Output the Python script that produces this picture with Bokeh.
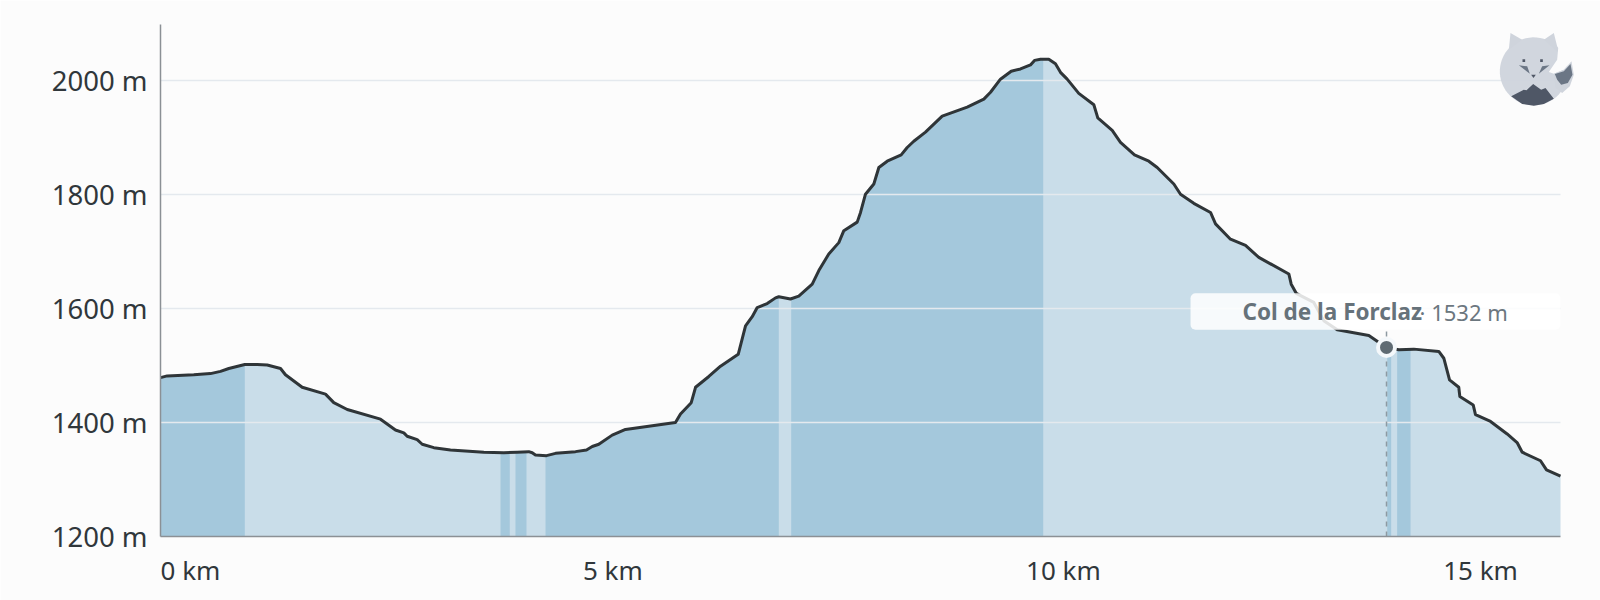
"""
Elevation profile of a hike, with the steeper stretches shaded darker.
"""

import numpy as np
from bokeh.embed import file_html
from bokeh.models import BoxAnnotation, FixedTicker, Label, PolyAnnotation, Range1d
from bokeh.plotting import figure
from bokeh.resources import INLINE

# profile
distance_km = [
    0, 0.076, 0.378, 0.568, 0.682, 0.776, 0.958, 1.099, 1.213, 1.364, 1.42, 1.61, 1.875, 1.969, 2.122,
    2.5, 2.67, 2.765, 2.803, 2.917, 2.974, 3.106, 3.295, 3.674, 3.901, 4.053, 4.185, 4.224, 4.261, 4.386,
    4.489, 4.716, 4.841, 4.906, 4.981, 5.133, 5.284, 5.852, 5.909, 6.031, 6.08, 6.231, 6.364, 6.565, 6.648,
    6.724, 6.781, 6.894, 6.989, 7.026, 7.159, 7.253, 7.406, 7.481, 7.594, 7.708, 7.765, 7.917, 7.955, 8.011,
    8.106, 8.163, 8.258, 8.417, 8.485, 8.56, 8.693, 8.883, 9.167, 9.356, 9.432, 9.545, 9.667, 9.773, 9.886,
    9.932, 10.0, 10.094, 10.17, 10.227, 10.303, 10.435, 10.606, 10.651, 10.815, 10.909, 11.068, 11.231, 11.326, 11.515,
    11.591, 11.742, 11.932, 11.989, 12.159, 12.33, 12.481, 12.822, 12.849, 12.906, 13.106, 13.219, 13.372, 13.731, 13.826,
    13.932, 14.072, 14.242, 14.526, 14.583, 14.648, 14.753, 14.765, 14.917, 14.943, 15.114, 15.303, 15.416, 15.474, 15.682,
    15.75, 15.909,
]
elevation_m = [
    1479, 1482, 1484, 1486, 1490, 1495, 1502, 1502, 1501, 1495, 1484, 1462, 1450, 1435, 1423,
    1406, 1387, 1382, 1376, 1370, 1362, 1356, 1352, 1348, 1347, 1348, 1349, 1347, 1343, 1342,
    1346, 1349, 1352, 1358, 1362, 1378, 1388, 1400, 1415, 1435, 1462, 1481, 1499, 1520, 1570,
    1586, 1602, 1609, 1619, 1621, 1617, 1622, 1643, 1667, 1696, 1716, 1737, 1752, 1769, 1801,
    1819, 1848, 1859, 1870, 1883, 1894, 1910, 1938, 1954, 1968, 1980, 2003, 2017, 2021, 2028,
    2036, 2038, 2038, 2030, 2015, 2003, 1978, 1958, 1935, 1913, 1892, 1870, 1859, 1848, 1819,
    1801, 1785, 1769, 1749, 1722, 1711, 1690, 1661, 1643, 1627, 1611, 1579, 1563, 1553, 1543,
    1532, 1528, 1529, 1525, 1513, 1475, 1462, 1446, 1431, 1414, 1402, 1380, 1365, 1348, 1333,
    1317, 1306,
]

# stretches drawn in the darker blue (start km, end km)
steep_start_km = [0, 3.864, 4.034, 4.375, 7.167, 13.94, 14.053]
steep_end_km = [0.958, 3.969, 4.159, 7.026, 10.031, 13.985, 14.205]

y_ticks = [1200, 1400, 1600, 1800, 2000]
y_tick_labels = ["1200 m", "1400 m", "1600 m", "1800 m", "2000 m"]
# the labels do not sit centred on their true positions in the original
x_ticks = [0.34, 5.14, 10.26, 15.0]
x_tick_labels = ["0 km", "5 km", "10 km", "15 km"]

pass_name = "Col de la Forclaz"
pass_km = 13.932
pass_m = 1532

BG = "#fcfcfc"
FONT = "Noto Sans"

# the frame runs to the page edge so the logo is not clipped; axis and grid stop at the last km
p = figure(
    width=1600,
    height=600,
    x_range=Range1d(0, 1440 / 88),
    y_range=Range1d(1200, 2099),
    output_backend="svg",
    toolbar_location=None,
    background_fill_color=BG,
    border_fill_color=BG,
    outline_line_color=None,
    min_border_left=160,
    min_border_right=0,
    min_border_top=24,
    min_border_bottom=64,
)

# Fill
p.varea(distance_km, 1200, elevation_m, fill_color="#c9dde9", level="image")
for start, end in zip(steep_start_km, steep_end_km):
    inside = [d for d in distance_km if start < d < end]
    xs = [start] + inside + [end]
    p.varea(xs, 1200, np.interp(xs, distance_km, elevation_m), fill_color="#a4c8dc", level="image")

p.line(distance_km, elevation_m, line_color="#2f3538", line_width=3, line_join="round")

# Axes
p.xgrid.visible = False
p.ygrid.ticker = FixedTicker(ticks=y_ticks)
p.ygrid.grid_line_color = "#e4e9ee"
p.ygrid.grid_line_width = 1.5
p.ygrid.cross_bounds = (0, distance_km[-1])

p.yaxis.ticker = FixedTicker(ticks=y_ticks)
p.yaxis.major_label_overrides = dict(zip(y_ticks, y_tick_labels))
p.xaxis.ticker = FixedTicker(ticks=x_ticks)
p.xaxis.major_label_overrides = dict(zip(x_ticks, x_tick_labels))
p.xaxis.bounds = (0, distance_km[-1])

for axis in (p.xaxis[0], p.yaxis[0]):
    axis.axis_line_color = "#8b9095"
    axis.axis_line_width = 1.5
    axis.major_tick_line_color = None
    axis.minor_tick_line_color = None
    axis.major_label_text_font = FONT
    axis.major_label_text_color = "#30373b"
p.xaxis.major_label_text_font_size = "26px"
p.yaxis.major_label_text_font_size = "27.5px"
p.yaxis.major_label_standoff = 7
p.xaxis.major_label_standoff = 9

# Marker of the pass and its label
p.segment([pass_km], [1200], [pass_km], [1560], line_color="#8d99a1", line_width=1.5, line_dash="5 5")
p.scatter([pass_km], [pass_m], size=17, fill_color="#5f6b73", line_color="#f4f8fb", line_width=4)

p.add_layout(BoxAnnotation(left=11.705, right=distance_km[-1], bottom=1563, top=1627,
                           fill_color="#ffffff", fill_alpha=0.85, line_color=None, border_radius=5))
p.add_layout(Label(x=11.705, y=1595, x_offset=52, text=pass_name, text_font=FONT, text_font_size="22.5px",
                   text_font_style="bold", text_color="#66727a", text_baseline="middle"))
p.add_layout(Label(x=11.705, y=1595, x_offset=229, text="· %d m" % pass_m, text_font=FONT, text_font_size="22px",
                   text_color="#6c777f", text_baseline="middle"))


# Logo, outlined in pixels of the corner crop and placed through the plot's scales
def logo_shape(points, color, alpha=1.0):
    xs = [(1490 + x / 3 - 160) / 88 for x, y in points]
    ys = [1200 + (535.8 - 24 - y / 3) * 1.756 for x, y in points]
    p.add_layout(PolyAnnotation(xs=xs, ys=ys, fill_color=color, fill_alpha=alpha, line_color=None))


angles = np.linspace(0, 2 * np.pi, 60)
logo_shape(list(zip(130 + 102 * np.cos(angles), 140 + 102 * np.sin(angles))), "#cfd4dc", 0.95)
logo_shape([(60, 25), (55, 75), (95, 45)], "#cfd4dc")
logo_shape([(190, 25), (160, 45), (205, 85)], "#cfd4dc")
logo_shape([(204, 60), (262, 60), (243, 110), (220, 135), (190, 147), (175, 142), (200, 105)], BG)
logo_shape([(190, 147), (220, 135), (243, 110), (250, 150), (238, 185), (215, 205), (195, 190)], "#cfd4dc")
logo_shape([(193, 148), (220, 140), (240, 118), (246, 150), (232, 175), (212, 180), (200, 165)], "#6b7685")
logo_shape([(85, 122), (110, 125), (118, 147)], "#6b7685")
logo_shape([(177, 122), (155, 125), (145, 147)], "#6b7685")
logo_shape([(122, 150), (136, 150), (129, 160)], "#4f5766")
logo_shape([(96, 104), (104, 104), (104, 112), (96, 112)], "#4f5766")
logo_shape([(149, 104), (157, 104), (157, 112), (149, 112)], "#4f5766")
logo_shape([(62, 215), (100, 195), (108, 197), (128, 178), (152, 195), (165, 190), (190, 222),
            (160, 238), (130, 243), (95, 238)], "#4f5766")

open("out.html", "w").write(file_html(p, INLINE))
